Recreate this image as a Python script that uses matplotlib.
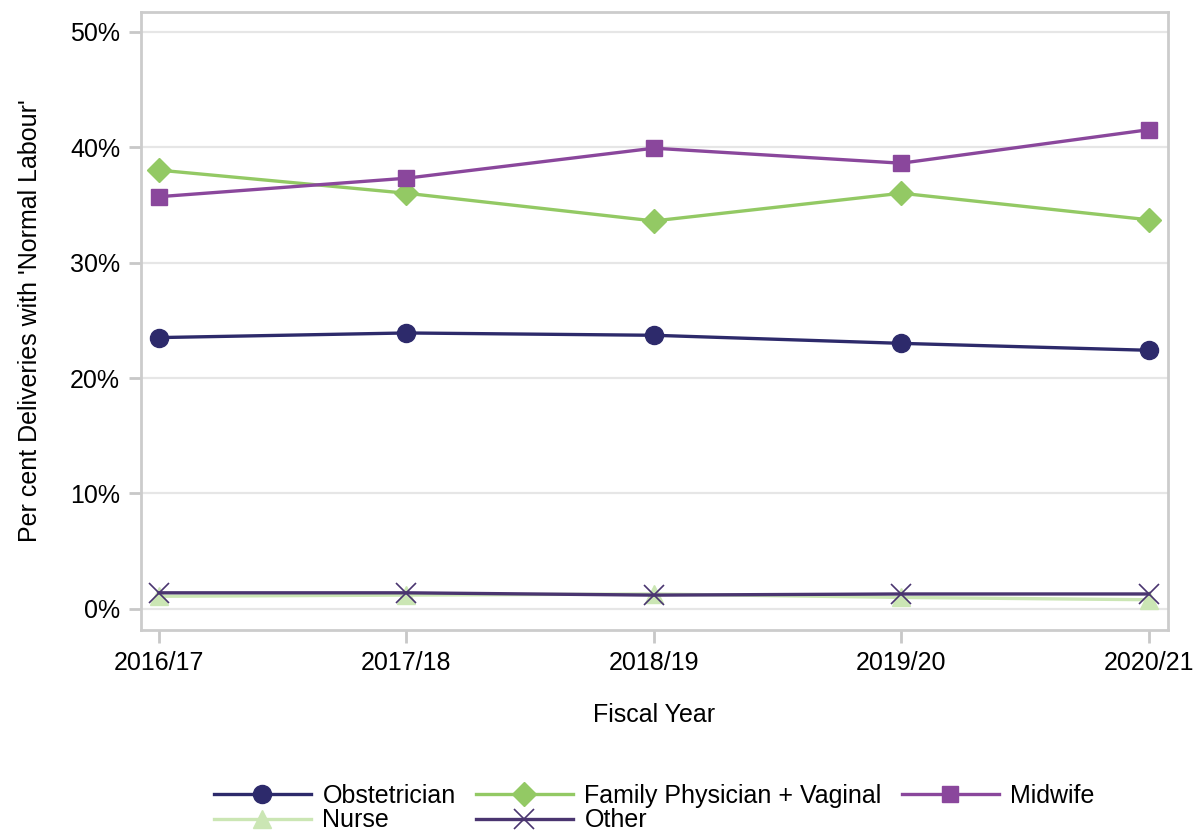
import matplotlib
matplotlib.use("Agg")
import matplotlib.pyplot as plt
from matplotlib.ticker import FuncFormatter

plt.rcParams['font.family'] = ['Liberation Sans', 'DejaVu Sans']

years = ["2016/17", "2017/18", "2018/19", "2019/20", "2020/21"]
obstetrician = [23.5, 23.9, 23.7, 23.0, 22.4]
family_physician = [38.0, 36.0, 33.6, 36.0, 33.7]
midwife = [35.7, 37.3, 39.9, 38.6, 41.5]
nurse = [1.1, 1.2, 1.3, 1.0, 0.8]
other = [1.4, 1.4, 1.2, 1.3, 1.3]

fig = plt.figure(figsize=(11.94, 8.33), dpi=100)
ax = fig.add_axes([0.118, 0.2437, 0.860, 0.742])

x = list(range(len(years)))
lw = 2.4
h_obs, = ax.plot(x, obstetrician, color="#2d2a6b", lw=lw, marker="o", ms=13, label="Obstetrician", zorder=5)
h_fam, = ax.plot(x, family_physician, color="#93c964", lw=lw, marker="D", ms=12, label="Family Physician + Vaginal", zorder=4)
h_mid, = ax.plot(x, midwife, color="#8a479c", lw=lw, marker="s", ms=12, label="Midwife", zorder=4)
h_nur, = ax.plot(x, nurse, color="#cbe6b4", lw=lw, marker="^", ms=13, label="Nurse", zorder=3)
h_oth, = ax.plot(x, other, color="#4a3570", lw=lw, marker="x", ms=14, mew=1.2, label="Other", zorder=6)

ax.set_xlim(-0.073, 4.077)
ax.set_ylim(-1.82, 51.7)
ax.set_yticks([0, 10, 20, 30, 40, 50])
ax.yaxis.set_major_formatter(FuncFormatter(lambda v, p: f"{v:.0f}%"))
ax.set_xticks(x)
ax.set_xticklabels(years)

ax.grid(axis="y", color="#e6e6e6", lw=1.6)
ax.set_axisbelow(True)
for s in ax.spines.values():
    s.set_color("#cccccc")
    s.set_linewidth(2)
ax.tick_params(axis="both", colors="#c8c8c8", length=9, width=2, labelsize=18, labelcolor="black", pad=6)

ax.set_xlabel("Fiscal Year", fontsize=18, labelpad=20)
ax.set_ylabel("Per cent Deliveries with 'Normal Labour'", fontsize=18, labelpad=20)

handles = [h_obs, h_nur, h_fam, h_oth, h_mid]
fig.legend(handles=handles, labels=[h.get_label() for h in handles],
           loc="upper center", bbox_to_anchor=(0.548, 0.074), ncol=3, frameon=False,
           fontsize=18, handlelength=3.9, labelspacing=0.02, columnspacing=0.8,
           handletextpad=0.45, borderpad=0)

fig.savefig("out.png", dpi=100)
